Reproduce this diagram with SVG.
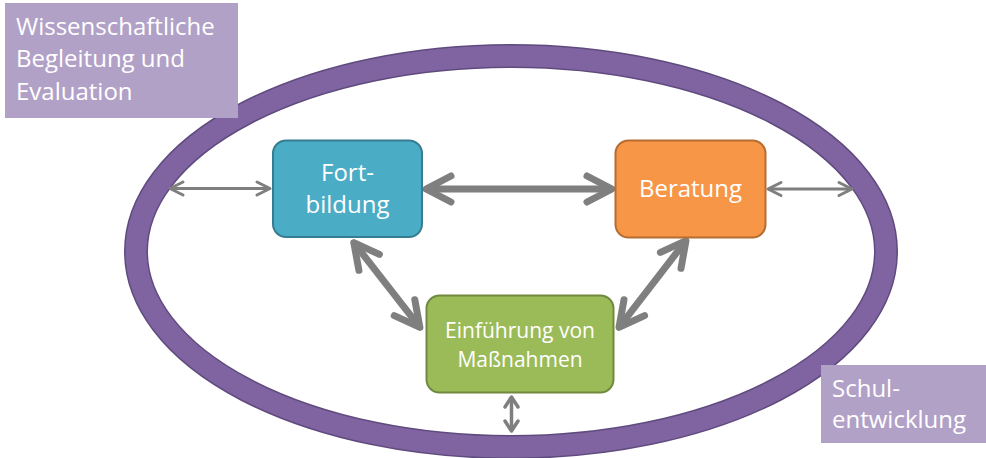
<svg xmlns="http://www.w3.org/2000/svg" width="986" height="458" viewBox="0 0 986 458">
<style>
.t{font-family:"Open Sans","Liberation Sans",sans-serif;fill:#ffffff;font-size:24px}
.s{font-size:21px}
.c{stroke:#7f7f7f;fill:none;stroke-linecap:butt}
.thick{stroke-width:7}
.thin{stroke-width:3}
.mid{stroke-width:3.5}
.lbl{fill:#b2a1c7}
</style>
<defs>
<marker id="ah" markerUnits="userSpaceOnUse" viewBox="-34 -20 40 40" markerWidth="40" markerHeight="40" refX="0" refY="0" orient="auto-start-reverse">
<path d="M -25 -13 L 0 0 L -25 13" fill="none" stroke="#7f7f7f" stroke-width="7" stroke-linecap="round" stroke-linejoin="round"/>
</marker>
<marker id="as" markerUnits="userSpaceOnUse" viewBox="-20 -10 24 20" markerWidth="24" markerHeight="20" refX="0" refY="0" orient="auto-start-reverse">
<path d="M -13 -6.5 L 0 0 L -13 6.5" fill="none" stroke="#7f7f7f" stroke-width="3" stroke-linecap="round" stroke-linejoin="round"/>
</marker>
<marker id="am" markerUnits="userSpaceOnUse" viewBox="-20 -10 24 20" markerWidth="24" markerHeight="20" refX="0" refY="0" orient="auto-start-reverse">
<path d="M -10 -6.5 L 0 0 L -10 6.5" fill="none" stroke="#7f7f7f" stroke-width="3.5" stroke-linecap="round" stroke-linejoin="round"/>
</marker>
</defs>
<rect width="986" height="458" fill="#ffffff"/>
<g id="ring">
<ellipse cx="511" cy="251.5" rx="375" ry="195.5" fill="none" stroke="#5f4b7d" stroke-width="24"/>
<ellipse cx="511" cy="251.5" rx="375" ry="195.5" fill="none" stroke="#8064a2" stroke-width="21"/>
</g>
<g id="connectors">
<line class="c thick" x1="426" y1="189" x2="612" y2="189" marker-start="url(#ah)" marker-end="url(#ah)"/>
<line class="c thick" x1="353.8" y1="242.6" x2="419.9" y2="327.4" marker-start="url(#ah)" marker-end="url(#ah)"/>
<line class="c thick" x1="686" y1="240.6" x2="619" y2="327.4" marker-start="url(#ah)" marker-end="url(#ah)"/>
<line class="c thin" x1="170" y1="188.5" x2="270" y2="188.5" marker-start="url(#as)" marker-end="url(#as)"/>
<line class="c thin" x1="768" y1="189" x2="852" y2="189" marker-start="url(#as)" marker-end="url(#as)"/>
<line class="c mid" x1="511.5" y1="397" x2="511.5" y2="431" marker-start="url(#am)" marker-end="url(#am)"/>
</g>
<g id="fortbildung">
<rect x="273" y="140.5" width="149" height="96.5" rx="13" fill="#4bacc6" stroke="#357d91" stroke-width="2"/>
<text class="t" x="347.5" y="181" text-anchor="middle">Fort-</text>
<text class="t" x="347.5" y="213" text-anchor="middle">bildung</text>
</g>
<g id="beratung">
<rect x="615.5" y="140.5" width="150" height="97" rx="13" fill="#f79646" stroke="#b66d31" stroke-width="2"/>
<text class="t" x="690.5" y="197" text-anchor="middle">Beratung</text>
</g>
<g id="einfuehrung">
<rect x="426.5" y="295.5" width="187" height="97" rx="13" fill="#9bbb59" stroke="#71893f" stroke-width="2"/>
<text class="t s" x="520" y="337.5" text-anchor="middle">Einführung von</text>
<text class="t s" x="520" y="366.5" text-anchor="middle">Maßnahmen</text>
</g>
<g id="wissenschaft">
<rect class="lbl" x="5" y="3" width="233" height="115"/>
<text class="t" x="16" y="35">Wissenschaftliche</text>
<text class="t" x="16" y="67">Begleitung und</text>
<text class="t" x="16" y="100">Evaluation</text>
</g>
<g id="schulentwicklung">
<rect class="lbl" x="821" y="365" width="165" height="78"/>
<text class="t" x="832" y="397">Schul-</text>
<text class="t" x="832" y="428">entwicklung</text>
</g>
</svg>
